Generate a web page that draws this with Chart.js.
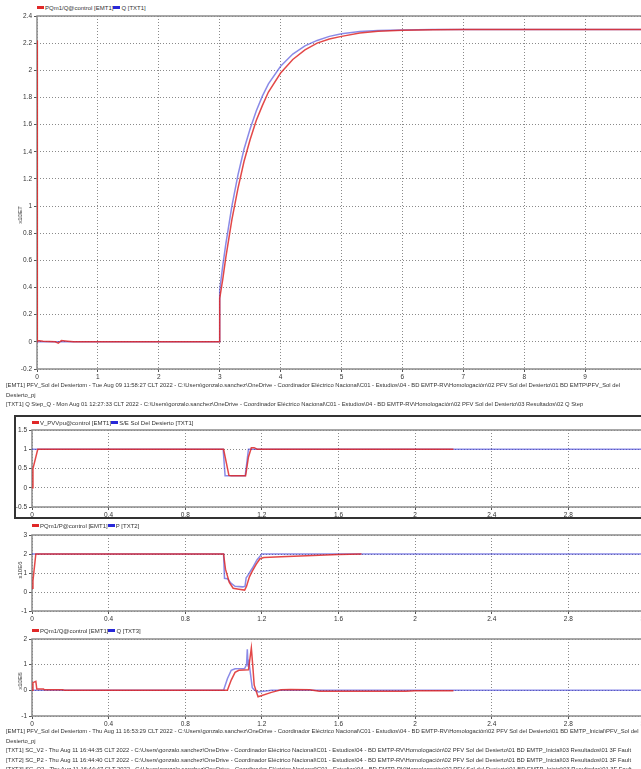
<!DOCTYPE html>
<html>
<head>
<meta charset="utf-8">
<script src="https://cdn.jsdelivr.net/npm/chart.js@4.4.1/dist/chart.umd.min.js"></script>
<style>
  body { margin: 0; width: 641px; height: 769px; overflow: hidden; background: #fff; position: relative;
         font-family: "Liberation Sans", Arial, sans-serif; color: #333; }
  canvas { position: absolute; left: 0; }
  .legend { position: absolute; font-size: 6px; line-height: 8px; white-space: nowrap; }
  .legend i { display: inline-block; width: 7px; height: 3px; vertical-align: middle; margin: 0 1px 1px 0; }
  .note { position: absolute; left: 6px; font-size: 5.85px; line-height: 9.5px; white-space: nowrap; }
  .ytitle { position: absolute; font-size: 6px; transform: translate(-50%, -50%) rotate(-90deg); white-space: nowrap; }
  .box { position: absolute; left: 14px; top: 415px; width: 640px; height: 100px; border: 2px solid #333; }
</style>
</head>
<body>

<div class="legend" style="left:37px;top:4px"><i style="background:#e02828"></i>PQm1/Q@control [EMT1]<i style="background:#2828d8"></i>Q [TXT1]</div>
<canvas id="chartQStep" width="660" height="383" style="top:0"></canvas>
<div class="ytitle" style="left:20px;top:215px">x10E7</div>
<div class="note" style="top:381px">[EMT1] PFV_Sol del Desiertom - Tue Aug 09 11:58:27 CLT 2022 - C:\Users\gonzalo.sanchez\OneDrive - Coordinador Eléctrico Nacional\C01 - Estudios\04 - BD EMTP-RV\Homologación\02 PFV Sol del Desierto\01 BD EMTP\PFV_Sol del<br>Desierto_pj<br>[TXT1] Q Step_Q - Mon Aug 01 12:27:33 CLT 2022 - C:\Users\gonzalo.sanchez\OneDrive - Coordinador Eléctrico Nacional\C01 - Estudios\04 - BD EMTP-RV\Homologación\02 PFV Sol del Desierto\03 Resultados\02 Q Step</div>

<div class="box"></div>
<div class="legend" style="left:32px;top:419px"><i style="background:#e02828"></i>V_PVVpu@control [EMT1]<i style="background:#2828d8"></i>S/E Sol Del Desierto [TXT1]</div>
<canvas id="chartV" width="660" height="101" style="top:420px"></canvas>

<div class="legend" style="left:32px;top:522px"><i style="background:#e02828"></i>PQm1/P@control [EMT1]<i style="background:#2828d8"></i>P [TXT2]</div>
<canvas id="chartP" width="660" height="100" style="top:525px"></canvas>
<div class="ytitle" style="left:20px;top:570px">x10E6</div>

<div class="legend" style="left:32px;top:627px"><i style="background:#e02828"></i>PQm1/Q@control [EMT1]<i style="background:#2828d8"></i>Q [TXT3]</div>
<canvas id="chartQ" width="660" height="101" style="top:629px"></canvas>
<div class="ytitle" style="left:20px;top:681px">x10E6</div>

<div class="note" style="top:727px">[EMT1] PFV_Sol del Desiertom - Thu Aug 11 16:53:29 CLT 2022 - C:\Users\gonzalo.sanchez\OneDrive - Coordinador Eléctrico Nacional\C01 - Estudios\04 - BD EMTP-RV\Homologación\02 PFV Sol del Desierto\01 BD EMTP_Inicial\PFV_Sol del<br>Desierto_pj<br>[TXT1] SC_V2 - Thu Aug 11 16:44:35 CLT 2022 - C:\Users\gonzalo.sanchez\OneDrive - Coordinador Eléctrico Nacional\C01 - Estudios\04 - BD EMTP-RV\Homologación\02 PFV Sol del Desierto\01 BD EMTP_Inicial\03 Resultados\01 3F Fault<br>[TXT2] SC_P2 - Thu Aug 11 16:44:40 CLT 2022 - C:\Users\gonzalo.sanchez\OneDrive - Coordinador Eléctrico Nacional\C01 - Estudios\04 - BD EMTP-RV\Homologación\02 PFV Sol del Desierto\01 BD EMTP_Inicial\03 Resultados\01 3F Fault<br>[TXT3] SC_Q2 - Thu Aug 11 16:44:47 CLT 2022 - C:\Users\gonzalo.sanchez\OneDrive - Coordinador Eléctrico Nacional\C01 - Estudios\04 - BD EMTP-RV\Homologación\02 PFV Sol del Desierto\01 BD EMTP_Inicial\03 Resultados\01 3F Fault</div>

<script>
// --- Data: Q step test (x10E7) ---
const qStepEmtT = [0, 0.003, 0.008, 0.1, 0.3, 0.35, 0.4, 0.5, 0.6, 3.0, 3.0, 3.05, 3.1, 3.2, 3.3, 3.4, 3.5, 3.6, 3.7, 3.8, 4.0, 4.2, 4.4, 4.6, 4.8, 5.0, 5.3, 5.6, 6.0, 6.5, 7.0, 8.0, 10];
const qStepEmtV = [0, 2.22, 0.01, 0.005, 0.0, -0.01, 0.01, 0.005, 0, 0, 0.32, 0.46, 0.62, 0.90, 1.13, 1.33, 1.49, 1.63, 1.74, 1.84, 1.98, 2.08, 2.15, 2.20, 2.23, 2.25, 2.275, 2.288, 2.295, 2.299, 2.3, 2.3, 2.3];
const qStepTxtT = [0, 3.0, 3.0, 3.05, 3.1, 3.2, 3.3, 3.4, 3.5, 3.6, 3.7, 3.8, 4.0, 4.2, 4.4, 4.6, 4.8, 5.0, 5.3, 5.6, 6.0, 6.5, 7.0, 8.0, 10];
const qStepTxtV = [0, 0, 0.38, 0.56, 0.72, 1.00, 1.23, 1.42, 1.57, 1.70, 1.81, 1.90, 2.03, 2.12, 2.18, 2.22, 2.25, 2.27, 2.285, 2.293, 2.297, 2.3, 2.3, 2.3, 2.3];

// --- Data: 3F fault, voltage (pu) ---
const vEmtT = [0, 0.005, 0.03, 1.0, 1.028, 1.04, 1.115, 1.13, 1.145, 1.16, 1.175, 2.2];
const vEmtV = [0, 0.5, 1.0, 1.0, 0.32, 0.31, 0.31, 0.8, 1.04, 1.04, 1.0, 1.0];
const vTxtT = [0, 0.998, 1.008, 1.113, 1.13, 3.2];
const vTxtV = [1, 1, 0.31, 0.31, 1.0, 1.0];

// --- Data: 3F fault, active power (x10E6) ---
const pEmtT = [0, 0.005, 0.02, 1.0, 1.01, 1.03, 1.05, 1.08, 1.11, 1.12, 1.135, 1.15, 1.17, 1.19, 1.21, 1.3, 1.4, 1.5, 1.6, 1.72];
const pEmtV = [0.2, 0.6, 2.0, 2.0, 1.2, 0.5, 0.2, 0.15, 0.1, 0.3, 0.8, 1.1, 1.45, 1.75, 1.82, 1.86, 1.9, 1.94, 1.97, 2.0];
const pTxtT = [0, 1.0, 1.005, 1.02, 1.04, 1.06, 1.1, 1.112, 1.118, 1.125, 1.15, 1.175, 1.2, 3.2];
const pTxtV = [2, 2, 0.72, 0.7, 0.45, 0.3, 0.27, 0.3, 0.75, 0.85, 1.25, 1.7, 2.0, 2.0];

// --- Data: 3F fault, reactive power (x10E6) ---
const qEmtT = [0, 0.005, 0.02, 0.025, 0.06, 0.065, 0.16, 0.17, 1.02, 1.04, 1.06, 1.08, 1.13, 1.137, 1.145, 1.152, 1.16, 1.18, 1.2, 1.25, 1.3, 1.35, 1.45, 1.5, 1.95, 2.0, 2.2];
const qEmtV = [0, 0.3, 0.35, 0.05, 0.05, 0.02, 0.02, 0, 0, 0.4, 0.7, 0.78, 0.8, 1.2, 1.65, 1.0, 0.2, -0.25, -0.2, -0.08, 0.02, 0.03, 0.02, -0.04, -0.04, -0.02, -0.02];
const qTxtT = [0, 1.0, 1.02, 1.04, 1.06, 1.11, 1.12, 1.124, 1.128, 1.132, 1.136, 1.15, 1.16, 1.18, 1.25, 3.2];
const qTxtV = [0, 0, 0.45, 0.78, 0.84, 0.85, 1.0, 1.6, 0.95, 1.2, 0.9, 0.1, 0.02, -0.06, 0, 0];

const RED = 'rgba(222, 40, 40, 0.85)';
const BLUE = 'rgba(60, 60, 215, 0.6)';

// --- Helpers ---

const toPoints = (t, v) => t.map((x, i) => ({ x: x, y: v[i] }));

// plain tick text: 2 instead of 2.0
const plainTick = v => String(Math.round(v * 1000) / 1000);

// gray frame round the plot area
const frame = {
    id: 'frame',
    beforeDatasetsDraw(chart) {
        const { ctx, chartArea: a } = chart;
        ctx.save();
        ctx.strokeStyle = '#8c8c8c';
        ctx.lineWidth = 1.5;
        ctx.strokeRect(a.left, a.top, a.right - a.left, a.bottom - a.top);
        ctx.restore();
    }
};

function makeChart(id, emt, txt, x, y, pad) {
    const tickFont = { family: '"Liberation Sans", Arial, sans-serif', size: 6.5 };
    const grid = { color: '#8a8a8a', lineWidth: 1, tickLength: 3, tickColor: '#555', tickBorderDash: [] };
    new Chart(document.getElementById(id), {
        type: 'line',
        data: {
            datasets: [
                { data: emt, borderColor: RED, borderWidth: 1.5, pointRadius: 0, tension: 0 },
                { data: txt, borderColor: BLUE, borderWidth: 1.5, pointRadius: 0, tension: 0 }
            ]
        },
        options: {
            responsive: false,
            animation: false,
            layout: { padding: { top: pad.top, right: pad.right, left: 0, bottom: 0 } },
            plugins: { legend: { display: false }, tooltip: { enabled: false } },
            scales: {
                x: {
                    type: 'linear', min: 0, max: x.max,
                    ticks: { stepSize: x.step, font: tickFont, color: '#333', padding: 1, maxRotation: 0, callback: plainTick },
                    grid: grid,
                    border: { display: false, dash: [1, 2] },
                    afterFit: s => { s.height = 14; }
                },
                y: {
                    min: y.min, max: y.max,
                    ticks: { stepSize: y.step, font: tickFont, color: '#333', padding: 2, callback: plainTick },
                    grid: grid,
                    border: { display: false, dash: [1, 2] },
                    afterFit: s => { s.width = pad.left; }
                }
            }
        },
        plugins: [frame]
    });
}

// --- Init ---
makeChart('chartQStep', toPoints(qStepEmtT, qStepEmtV), toPoints(qStepTxtT, qStepTxtV),
    { max: 10, step: 1 }, { min: -0.2, max: 2.4, step: 0.2 }, { top: 16, right: 14, left: 37 });
makeChart('chartV', toPoints(vEmtT, vEmtV), toPoints(vTxtT, vTxtV),
    { max: 3.2, step: 0.4 }, { min: -0.5, max: 1.5, step: 0.5 }, { top: 10, right: 15, left: 32 });
makeChart('chartP', toPoints(pEmtT, pEmtV), toPoints(pTxtT, pTxtV),
    { max: 3.2, step: 0.4 }, { min: -1, max: 3, step: 1 }, { top: 10, right: 15, left: 32 });
makeChart('chartQ', toPoints(qEmtT, qEmtV), toPoints(qTxtT, qTxtV),
    { max: 3.2, step: 0.4 }, { min: -1, max: 2, step: 1 }, { top: 10, right: 15, left: 32 });
</script>
</body>
</html>
